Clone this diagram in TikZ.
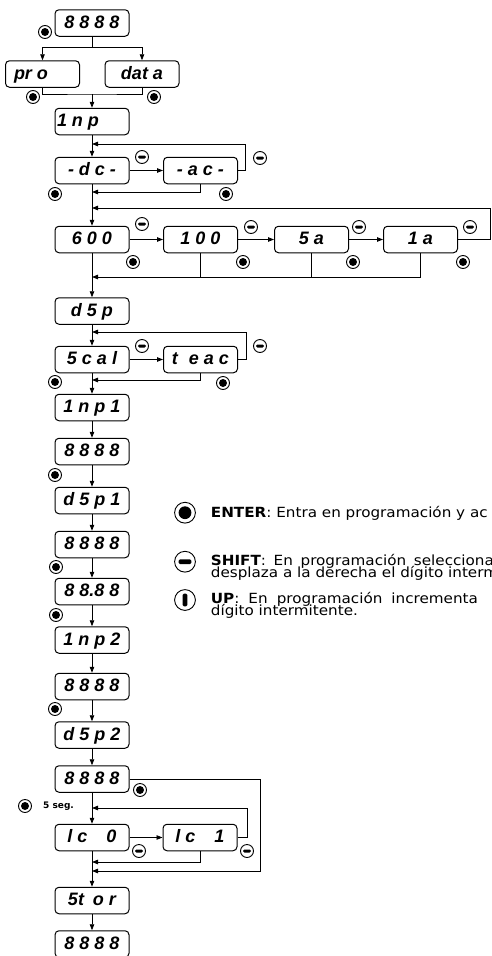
\documentclass[tikz,border=0pt]{standalone}
\usepackage{fontspec}
\setmainfont{DejaVu Sans}
\newfontfamily\legfont{DejaVu Sans}[FakeStretch=1.085]
\newfontfamily\dispfont{Liberation Sans}
\usetikzlibrary{arrows.meta}

\begin{document}
\begin{tikzpicture}[x=1pt, y=-1pt, >={Triangle[length=6pt,width=4.5pt]},
	disp/.style={draw, line width=1pt, rounded corners=4pt, minimum width=74pt, minimum height=26.5pt, inner sep=0pt, text height=13pt, text depth=2.4pt, font=\dispfont\bfseries\itshape\fontsize{18}{18}\selectfont},
	wire/.style={line width=0.8pt},
	flow/.style={line width=0.8pt, ->},
	every pic/.style={line width=0.9pt},
	pics/enterkey/.style={code={\draw[fill=white] (0,0) circle (6.5pt); \fill (0,0) circle (4pt);}},
	pics/shiftkey/.style={code={\draw[fill=white] (0,0) circle (6.5pt); \fill[rounded corners=1.4pt] (-4pt,-1.5pt) rectangle (4pt,1.5pt);}},
	pics/upkey/.style={code={\draw[fill=white] (0,0) circle (6.5pt); \fill[rounded corners=1.4pt] (-1.5pt,-4pt) rectangle (1.5pt,4pt);}},
	legend/.style={anchor=base west, inner sep=0pt, font=\legfont\fontsize{14}{14}\selectfont}]
		\useasboundingbox (0,0) rectangle (491,956);
		\node[disp] (blank0) at (92,23) {8 8 8 8};
		\node[disp] (pro) at (42.5,74) {\makebox[57pt][l]{pr o}};
		\node[disp] (dat) at (142,74) {dat a};
		\node[disp] (inp) at (92,121.5) {\makebox[70pt][l]{1 n p}};
		\node[disp] (dc) at (92,170.5) {- d c -};
		\node[disp] (ac) at (200.5,170.5) {- a c -};
		\node[disp] (r600) at (92,239.5) {6 0 0};
		\node[disp] (r100) at (200.5,239.5) {1 0 0};
		\node[disp] (r5a) at (311.5,239.5) {5 a};
		\node[disp] (r1a) at (420.5,239.5) {1 a};
		\node[disp] (dsp) at (92,311) {d 5 p};
		\node[disp] (scal) at (92,359.5) {5 c a l};
		\node[disp] (teac) at (200.5,359.5) {t\hspace{6pt} e a c};
		\node[disp] (inp1) at (92,407.5) {1 n p 1};
		\node[disp] (blank1) at (92,451.5) {8 8 8 8};
		\node[disp] (dsp1) at (92,500.5) {d 5 p 1};
		\node[disp] (blank2) at (92,544.5) {8 8 8 8};
		\node[disp] (dec) at (92,591.5) {8 8.8 8};
		\node[disp] (inp2) at (92,640) {1 n p 2};
		\node[disp] (blank3) at (92,686.5) {8 8 8 8};
		\node[disp] (dsp2) at (92,735) {d 5 p 2};
		\node[disp] (blank4) at (92,779) {8 8 8 8};
		\node[disp] (lc0) at (92,837.5) {l c\hspace{14pt} 0};
		\node[disp] (lc1) at (200,837.5) {l c\hspace{14pt} 1};
		\node[disp] (stor) at (92,900.5) {5t\hspace{4pt} o r};
		\node[disp] (blank5) at (92,944) {8 8 8 8};
		\coordinate (j1) at (92,47);
		\coordinate (j2) at (92,94);
		\coordinate (m1) at (92,144);
		\coordinate (m2) at (92,192);
		\coordinate (m3) at (92,208);
		\coordinate (m4) at (92,277);
		\coordinate (m5) at (92,332);
		\coordinate (m6) at (92,380);
		\coordinate (m7) at (92,871);
		\coordinate (m8) at (92,808);
		\coordinate (m9) at (92,862);
		\draw[wire] (blank0) -- (j1);
		\draw[flow] (j1) -| (pro);
		\draw[flow] (j1) -| (dat);
		\draw[wire] (pro) |- (j2) -| (dat);
		\draw[flow] (j2) -- (inp);
		\draw[flow] (inp) -- (dc);
		\draw[flow] (dc) -- (ac);
		\draw[flow] (ac.east) -- ++(7,0) |- (m1);
		\draw[flow] (ac) |- (m2);
		\draw[flow] (dc) -- (r600);
		\draw[flow] (r600) -- (r100);
		\draw[flow] (r100) -- (r5a);
		\draw[flow] (r5a) -- (r1a);
		\draw[flow] (r1a.east) -- ++(32,0) |- (m3);
		\draw[flow] (r1a) |- (m4);
		\draw[wire] (r100) -- (r100 |- m4);
		\draw[wire] (r5a) -- (r5a |- m4);
		\draw[flow] (r600) -- (dsp);
		\draw[flow] (dsp) -- (scal);
		\draw[flow] (scal) -- (teac);
		\draw[flow] (teac.east) -- ++(8,0) |- (m5);
		\draw[flow] (teac) |- (m6);
		\draw[flow] (scal) -- (inp1);
		\draw[flow] (inp1) -- (blank1);
		\draw[flow] (blank1) -- (dsp1);
		\draw[flow] (dsp1) -- (blank2);
		\draw[flow] (blank2) -- (dec);
		\draw[flow] (dec) -- (inp2);
		\draw[flow] (inp2) -- (blank3);
		\draw[flow] (blank3) -- (dsp2);
		\draw[flow] (dsp2) -- (blank4);
		\draw[flow] (blank4.east) -- ++(131,0) |- (m7);
		\draw[flow] (blank4) -- (lc0);
		\draw[flow] (lc0) -- (lc1);
		\draw[flow] (lc1.east) -- ++(10,0) |- (m8);
		\draw[flow] (lc1) |- (m9);
		\draw[flow] (lc0) -- (stor);
		\draw[flow] (stor) -- (blank5);
		\pic at (45,32) {enterkey};
		\pic at (33,97) {enterkey};
		\pic at (154,97) {enterkey};
		\pic at (55,194) {enterkey};
		\pic at (226,194) {enterkey};
		\pic at (133,262) {enterkey};
		\pic at (243,262) {enterkey};
		\pic at (353,262) {enterkey};
		\pic at (463,262) {enterkey};
		\pic at (55,382) {enterkey};
		\pic at (223,383) {enterkey};
		\pic at (55,475) {enterkey};
		\pic at (56,567) {enterkey};
		\pic at (56,615) {enterkey};
		\pic at (55,709) {enterkey};
		\pic at (140,790) {enterkey};
		\pic at (25,806) {enterkey};
		\pic at (142,157) {shiftkey};
		\pic at (260,158) {shiftkey};
		\pic at (142,224) {shiftkey};
		\pic at (251,227) {shiftkey};
		\pic at (359,227) {shiftkey};
		\pic at (470,227) {shiftkey};
		\pic at (142,346) {shiftkey};
		\pic at (260,346) {shiftkey};
		\pic at (139,851) {shiftkey};
		\pic at (247,851) {shiftkey};
		\node[anchor=base west, inner sep=0pt, font=\bfseries\fontsize{9}{9}\selectfont] (seg) at (43,808) {5 seg.};
		\pic[scale=1.6, line width=1.3pt] at (185,512.7) {enterkey};
		\pic[scale=1.6, line width=1.3pt] at (185,561.7) {shiftkey};
		\pic[scale=1.6, line width=1.3pt] at (185,600) {upkey};
		\node[legend] (lenter) at (210.7,517) {\textbf{ENTER}: Entra en programación y ac};
		\node[legend] (lshift1) at (210.7,565.5) {\makebox[283pt][s]{\textbf{SHIFT}: En programación selecciona}};
		\node[legend] (lshift2) at (210.7,577) {desplaza a la derecha el dígito interm};
		\node[legend] (lup1) at (210.7,603.5) {\makebox[267pt][s]{\textbf{UP}: En programación incrementa}};
		\node[legend] (lup2) at (210.7,615) {dígito intermitente.};
	\end{tikzpicture}
\end{document}
